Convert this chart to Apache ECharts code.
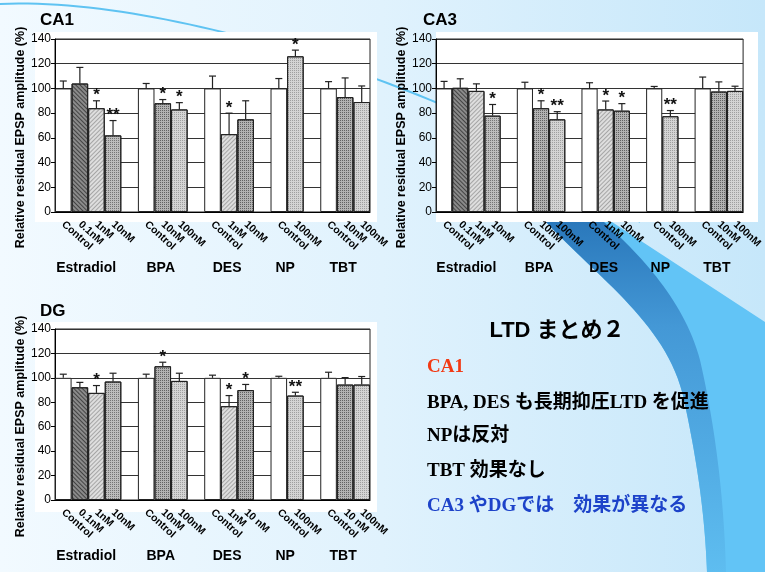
<!DOCTYPE html>
<html>
<head>
<meta charset="utf-8">
<script src="https://cdn.jsdelivr.net/npm/echarts@6/dist/echarts.min.js"></script>
<style>
  html, body { margin: 0; padding: 0; background: #eaf6fd; }
  #chart { width: 765px; height: 572px; }
</style>
</head>
<body>
<div id="chart"></div>
<script>
// ---- data -------------------------------------------------------------
// Treatment slots along each x axis; '' is the spacer between compounds
const slotsTop = ['Control', '0.1nM', '1nM', '10nM', '',
                  'Control', '10nM', '100nM', '',
                  'Control', '1nM', '10nM', '',
                  'Control', '100nM', '',
                  'Control', '10nM', '100nM'];
const slotsDG  = ['Control', '0.1nM', '1nM', '10nM', '',
                  'Control', '10nM', '100nM', '',
                  'Control', '1nM', '10 nM', '',
                  'Control', '100nM', '',
                  'Control', '10 nM', '100nM'];
const compounds = ['Estradiol', 'BPA', 'DES', 'NP', 'TBT'];

// Y scale (%)
const yMin = 0, yMax = 140, yStep = 20;

// CA1: mean, SEM, significance
const ca1Mean = [100, 104, 84, 62, null, 100, 88, 83, null, 100, 63, 75, null, 100, 126, null, 100, 93, 89];
const ca1Err  = [6, 13, 6, 12, null, 4, 3, 5.5, null, 10, 17, 15, null, 8, 5, null, 5.5, 15.5, 13];
const ca1Sig  = ['', '', '*', '**', '', '', '*', '*', '', '', '*', '', '', '', '*', '', '', '', ''];

// CA3
const ca3Mean = [100, 100.5, 98, 78, null, 100, 84, 75, null, 100, 83, 82, null, 100, 77.5, null, 100, 97.5, 98];
const ca3Err  = [5.7, 7.3, 5.7, 9, null, 5, 6, 6.2, null, 4.6, 6.8, 5.7, null, 1.6, 4.6, null, 9.2, 7.8, 3.8];
const ca3Sig  = ['', '', '', '*', '', '', '*', '**', '', '', '*', '*', '', '', '**', '', '', '', ''];

// DG
const dgMean = [100, 92.3, 87.7, 97, null, 100, 109.5, 97.5, null, 100, 76.8, 90, null, 100, 85.5, null, 100, 94.5, 94.5];
const dgErr  = [3, 4, 6, 6.8, null, 3, 3.3, 6.3, null, 2.2, 8.7, 4.6, null, 1.3, 2.7, null, 4.6, 5.7, 6.6];
const dgSig  = ['', '', '*', '', '', '', '*', '', '', '', '*', '*', '', '', '**', '', '', '', ''];

// Summary text
const summaryTitle = 'LTD まとめ２';
const summaryLines = [
  { text: 'CA1', tone: 'red' },
  { text: 'BPA, DES も長期抑圧LTD を促進', tone: 'black' },
  { text: 'NPは反対', tone: 'black' },
  { text: 'TBT 効果なし', tone: 'black' },
  { text: 'CA3 やDGでは　効果が異なる', tone: 'blue' }
];

// ---- styles -----------------------------------------------------------
const SANS = 'Arial, "Liberation Sans", sans-serif';
const stripe = (c, rot) => ({ symbol: 'rect', symbolSize: 1, dashArrayX: [1, 0], dashArrayY: [1, 2], rotation: rot, color: c });
const dots = (c) => ({ symbol: 'rect', symbolSize: 1, dashArrayX: [1, 1], dashArrayY: [1, 1], rotation: 0, color: c });
const fills = {
  open:       { color: '#ffffff' },
  darkHatch:  { color: '#8a8a8a', decal: stripe('rgba(20,20,20,0.6)', Math.PI / 4) },
  lightHatch: { color: '#dedede', decal: stripe('rgba(60,60,60,0.35)', -Math.PI / 4) },
  midDots:    { color: '#bdbdbd', decal: dots('rgba(30,30,30,0.45)') },
  darkDots:   { color: '#b2b2b2', decal: dots('rgba(20,20,20,0.5)') },
  lightDots:  { color: '#d4d4d4', decal: dots('rgba(60,60,60,0.35)') }
};
// fill used in each slot (same order as the slot lists)
const fillKeys = ['open', 'darkHatch', 'lightHatch', 'midDots', '',
                  'open', 'darkDots', 'lightDots', '',
                  'open', 'lightHatch', 'darkDots', '',
                  'open', 'lightDots', '',
                  'open', 'darkDots', 'lightDots'];
const toneColor = { red: '#f23a14', black: '#000000', blue: '#1d43c9' };

const panels = [
  { title: 'CA1', slots: slotsTop, mean: ca1Mean, err: ca1Err, sig: ca1Sig,
    grid: { left: 55, top: 39, width: 315, height: 173 }, titleAt: [40, 12],
    card: [35, 32, 342, 190] },
  { title: 'CA3', slots: slotsTop, mean: ca3Mean, err: ca3Err, sig: ca3Sig,
    grid: { left: 436, top: 39, width: 315, height: 173 }, titleAt: [423, 12],
    card: [436, 32, 322, 190] },
  { title: 'DG', slots: slotsDG, mean: dgMean, err: dgErr, sig: dgSig,
    grid: { left: 55, top: 329, width: 315, height: 171 }, titleAt: [40, 303],
    card: [35, 322, 342, 190] }
];

// ---- chart ------------------------------------------------------------
const chart = echarts.init(document.getElementById('chart'));

const option = {
  animation: false,
  backgroundColor: 'transparent',
  title: [], grid: [], xAxis: [], yAxis: [], series: []
};

panels.forEach((p, k) => {
  option.title.push({
    text: p.title, left: p.titleAt[0], top: p.titleAt[1], padding: 0,
    textStyle: { fontFamily: SANS, fontSize: 17, fontWeight: 'bold', color: '#000' }
  });
  option.grid.push(Object.assign({ show: true, borderColor: '#222', borderWidth: 1,
                                   backgroundColor: 'transparent' }, p.grid));
  option.xAxis.push({
    type: 'category', gridIndex: k, data: p.slots,
    axisLine: { lineStyle: { color: '#000', width: 1 } },
    axisTick: { show: false },
    axisLabel: { interval: 0, rotate: -42, margin: 11, fontFamily: SANS,
                 fontSize: 10.5, fontWeight: 'bold', color: '#000' },
    splitLine: { show: false }
  });
  option.yAxis.push({
    type: 'value', gridIndex: k, min: yMin, max: yMax, interval: yStep,
    name: 'Relative residual EPSP amplitude (%)',
    nameLocation: 'middle', nameRotate: 90, nameGap: 27,
    nameTextStyle: { fontFamily: SANS, fontSize: 12.5, fontWeight: 'bold', color: '#000',
                     padding: [0, 24, 0, 0] },
    axisLine: { show: true, lineStyle: { color: '#000', width: 1 } },
    axisTick: { show: true, length: 4, lineStyle: { color: '#000' } },
    axisLabel: { margin: 4, fontFamily: SANS, fontSize: 12, color: '#000' },
    splitLine: { show: true, lineStyle: { color: '#333', width: 1 } }
  });

  option.series.push({
    type: 'bar', xAxisIndex: k, yAxisIndex: k, silent: true,
    barCategoryGap: '0%', z: 2,
    itemStyle: { borderColor: '#222', borderWidth: 1 },
    data: p.mean.map((v, i) => v == null ? '-' :
      { value: v, itemStyle: Object.assign({}, fills[fillKeys[i]]) })
  });

  const items = [];
  p.mean.forEach((v, i) => { if (v != null) items.push({ i, v, e: p.err[i], s: p.sig[i] }); });
  option.series.push({
    type: 'custom', xAxisIndex: k, yAxisIndex: k, silent: true, z: 4,
    data: items.map(d => [d.i, d.v, d.e]),
    renderItem: (params, api) => {
      const base = api.coord([api.value(0), api.value(1)]);
      const tip = api.coord([api.value(0), api.value(1) + api.value(2)]);
      const line = { stroke: '#222', lineWidth: 1.2 };
      const children = [
        { type: 'line', shape: { x1: base[0], y1: base[1], x2: base[0], y2: tip[1] }, style: line },
        { type: 'line', shape: { x1: base[0] - 3.5, y1: tip[1], x2: base[0] + 3.5, y2: tip[1] }, style: line }
      ];
      const s = items[params.dataIndex].s;
      if (s) {
        children.push({ type: 'text', x: base[0], y: tip[1] - 5,
          style: { text: s, font: 'bold 17px ' + SANS, fill: '#111',
                   align: 'center', verticalAlign: 'middle' } });
      }
      return { type: 'group', children };
    }
  });
});

chart.setOption(option);

// ---- background, cards and text --------------------------------------
// sample a cubic Bezier segment into points
function bez(p0, p1, p2, p3, n) {
  const out = [];
  for (let j = 0; j <= n; j++) {
    const t = j / n, u = 1 - t;
    out.push([
      u * u * u * p0[0] + 3 * u * u * t * p1[0] + 3 * u * t * t * p2[0] + t * t * t * p3[0],
      u * u * u * p0[1] + 3 * u * u * t * p1[1] + 3 * u * t * t * p2[1] + t * t * t * p3[1]
    ]);
  }
  return out;
}
// left edge of the ribbon, top to bottom
const ribbonEdge = bez([546, 222], [600, 280], [668, 325], [684, 400], 30)
  .concat(bez([684, 400], [699, 470], [705, 520], [707, 572], 24).slice(1));
// inner edge of its shaded fold, bottom to top
const ribbonInner = bez([726, 572], [724, 500], [716, 430], [700, 360], 24)
  .concat(bez([700, 360], [684, 300], [640, 255], [604, 222], 30).slice(1));
const arcPts = bez([0, 4], [120, -2], [300, 45], [440, 104], 40)
  .concat(bez([440, 104], [520, 140], [590, 185], [640, 222], 24).slice(1));

const gfx = [];
gfx.push({ type: 'rect', z: -30, shape: { x: 0, y: 0, width: 765, height: 572 },
  style: { fill: { type: 'linear', x: 0, y: 0, x2: 1, y2: 0,
    colorStops: [{ offset: 0, color: '#f2faff' }, { offset: 0.5, color: '#e0f2fd' },
                 { offset: 1, color: '#c6e7fa' }] } } });
// sweeping ribbon
gfx.push({ type: 'polygon', z: -25,
  shape: { points: ribbonEdge.concat([[765, 572], [765, 322], [612, 222]]) },
  style: { fill: '#62c4f6' } });
gfx.push({ type: 'polygon', z: -24,
  shape: { points: ribbonEdge.concat(ribbonInner) },
  style: { fill: { type: 'linear', x: 0, y: 0, x2: 0, y2: 1,
    colorStops: [{ offset: 0, color: '#2a78bb' }, { offset: 0.3, color: '#4498d6' },
                 { offset: 1, color: '#5ebdf0' }] } } });
// thin arc
gfx.push({ type: 'polyline', z: -23, shape: { points: arcPts },
  style: { fill: null, stroke: '#5fc3f2', lineWidth: 2 } });

panels.forEach((p) => {
  gfx.push({ type: 'rect', z: -20,
    shape: { x: p.card[0], y: p.card[1], width: p.card[2], height: p.card[3] },
    style: { fill: '#ffffff' } });
});

// compound names under each group of bars
panels.forEach((p, k) => {
  const yPix = chart.convertToPixel({ yAxisIndex: k }, 0) + 56;
  let start = 0, g = 0;
  for (let i = 0; i <= p.slots.length; i++) {
    if (i === p.slots.length || p.slots[i] === '') {
      const x0 = chart.convertToPixel({ xAxisIndex: k }, start);
      const x1 = chart.convertToPixel({ xAxisIndex: k }, i - 1);
      gfx.push({ type: 'text', z: 10, x: (x0 + x1) / 2 - 2, y: yPix,
        style: { text: compounds[g], font: 'bold 14px ' + SANS, fill: '#000',
                 align: 'center', verticalAlign: 'middle' } });
      g++; start = i + 1;
    }
  }
});

gfx.push({ type: 'text', z: 10, x: 557, y: 331,
  style: { text: summaryTitle, font: 'bold 22px "Liberation Sans", "Noto Sans CJK JP"',
           fill: '#000', align: 'center', verticalAlign: 'middle' } });
const lineY = [367, 403.5, 436.5, 471.5, 506.5];
summaryLines.forEach((ln, i) => {
  gfx.push({ type: 'text', z: 10, x: 427, y: lineY[i],
    style: { text: ln.text, font: 'bold 19px "Liberation Serif", "Noto Sans CJK JP"',
             fill: toneColor[ln.tone], align: 'left', verticalAlign: 'middle' } });
});

chart.setOption({ graphic: { elements: gfx } });
</script>
</body>
</html>
